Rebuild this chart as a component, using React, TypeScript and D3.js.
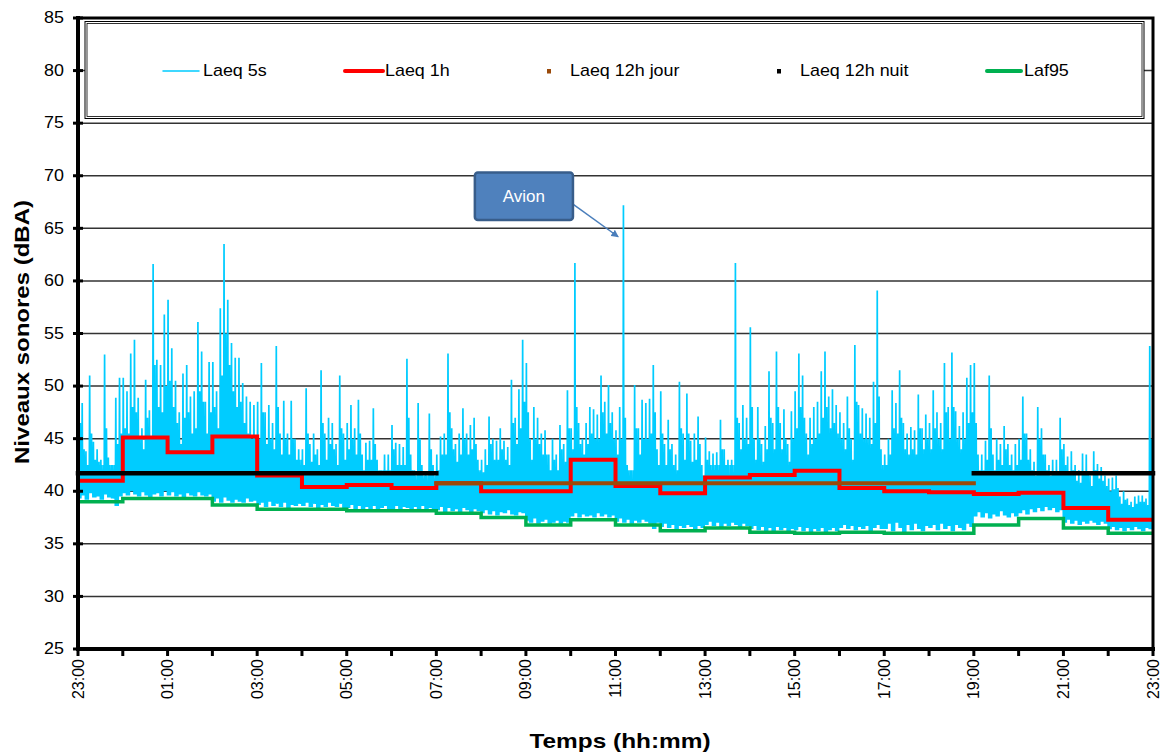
import React from "react";
import * as d3 from "d3";

const W = 1164;
const H = 755;

// x axis: hours elapsed since 23:00 (0..24)
const xTickLabels = ["23:00", "01:00", "03:00", "05:00", "07:00", "09:00", "11:00", "13:00", "15:00", "17:00", "19:00", "21:00", "23:00"];
const yTickValues = [25, 30, 35, 40, 45, 50, 55, 60, 65, 70, 75, 80, 85];

// Laeq 1h (one value per hour, starting 23:00)
const laeq1h = [41.0, 45.1, 43.7, 45.2, 41.5, 40.4, 40.6, 40.3, 40.75, 40.0, 40.0, 43.0, 40.5, 39.8, 41.3, 41.55, 41.95, 40.3, 40.0, 39.9, 39.75, 39.85, 38.4, 37.3];

// Laf95 (one value per hour)
const laf95 = [39.0, 39.3, 39.3, 38.7, 38.3, 38.3, 38.15, 38.15, 37.9, 37.5, 36.8, 37.3, 36.8, 36.25, 36.5, 36.1, 36.0, 36.1, 36.0, 36.0, 36.8, 37.4, 36.5, 36.0];

// Laeq 12h periods [startHour, endHour, value]
const laeq12hJour: [number, number, number][] = [[8, 20, 40.75]];
const laeq12hNuit: [number, number, number][] = [[0, 8, 41.7], [20, 24, 41.7]];

// Laeq 5s : per hour, 12 five-minute buckets — highest peak
const laeq5sHigh = [
  [52.6, 48.4, 43.8, 51.0, 44.7, 44.0, 43.0, 53.0, 43.2, 42.5, 48.9, 50.8],
  [50.8, 49.5, 53.1, 54.4, 48.9, 46.0, 50.6, 47.7, 61.6, 52.5, 52.0, 56.8],
  [58.2, 53.6, 50.5, 47.5, 51.2, 52.0, 49.0, 49.5, 56.1, 53.3, 48.5, 52.3],
  [52.3, 49.5, 57.4, 63.5, 58.2, 54.1, 52.7, 52.7, 50.3, 49.0, 48.5, 48.2],
  [48.5, 52.2, 47.5, 48.2, 46.5, 53.8, 45.5, 48.6, 45.5, 48.6, 45.0, 44.0],
  [44.0, 49.8, 44.5, 45.5, 44.0, 51.5, 45.5, 47.0, 46.5, 44.5, 51.0, 45.5],
  [46.5, 48.2, 46.0, 48.7, 43.5, 44.6, 44.8, 47.9, 43.0, 42.0, 43.5, 43.5],
  [46.3, 44.6, 44.5, 44.2, 52.6, 43.5, 42.0, 48.4, 42.5, 41.8, 47.4, 42.5],
  [43.5, 45.2, 45.5, 53.1, 46.0, 44.5, 45.5, 47.9, 45.5, 46.3, 47.0, 43.0],
  [43.0, 44.0, 47.1, 45.0, 44.8, 46.0, 44.8, 44.2, 50.6, 47.0, 49.7, 54.4],
  [52.2, 45.0, 48.0, 47.0, 45.5, 45.8, 43.5, 45.0, 43.5, 46.3, 44.5, 49.6],
  [46.0, 61.7, 46.5, 45.0, 46.5, 48.0, 47.8, 47.3, 51.0, 48.5, 50.1, 47.5],
  [45.8, 48.0, 67.2, 42.5, 42.0, 50.1, 46.0, 48.7, 48.4, 48.8, 52.0, 44.0],
  [49.5, 44.5, 46.8, 44.5, 43.5, 50.4, 45.5, 49.3, 44.8, 45.5, 47.1, 42.5],
  [45.1, 43.8, 43.6, 43.7, 46.8, 44.0, 43.0, 43.0, 61.7, 46.5, 48.2, 47.0],
  [55.6, 45.0, 48.0, 44.5, 46.2, 51.4, 46.5, 53.3, 46.5, 47.8, 44.5, 47.6],
  [49.5, 53.1, 51.0, 45.5, 47.0, 48.0, 48.5, 51.4, 53.3, 49.0, 49.7, 48.2],
  [47.5, 46.5, 49.0, 45.0, 53.9, 48.2, 47.9, 47.4, 47.0, 50.4, 59.1, 44.0],
  [43.5, 45.0, 49.6, 48.4, 51.5, 46.5, 45.5, 46.1, 45.8, 49.2, 46.0, 47.3],
  [46.5, 49.6, 47.5, 46.5, 52.2, 48.0, 53.2, 47.6, 46.2, 47.5, 50.8, 52.0],
  [52.2, 43.5, 43.5, 44.8, 51.0, 43.5, 45.0, 44.5, 46.2, 44.5, 43.5, 44.5],
  [45.0, 49.0, 45.5, 44.0, 42.8, 48.0, 46.0, 43.5, 42.5, 43.0, 43.0, 47.0],
  [44.5, 43.3, 43.8, 42.5, 42.0, 43.6, 43.5, 41.5, 43.8, 42.6, 42.3, 41.5],
  [41.2, 41.3, 41.5, 39.5, 40.0, 39.3, 39.0, 39.5, 39.6, 39.6, 39.3, 53.8],
];

// Laeq 5s : secondary peak per five-minute bucket
const laeq5sMid = [
  [46.5, 44.0, 42.5, 45.5, 43.0, 42.8, 41.8, 46.0, 42.0, 41.5, 44.5, 45.5],
  [46.0, 45.5, 48.0, 47.5, 45.0, 44.0, 47.0, 45.0, 52.0, 48.0, 47.5, 50.0],
  [50.5, 48.0, 46.5, 44.5, 47.0, 47.5, 45.5, 46.0, 49.5, 48.5, 45.5, 47.5],
  [48.0, 46.0, 51.0, 55.0, 52.0, 49.5, 48.0, 48.5, 46.5, 45.5, 45.0, 45.0],
  [45.0, 47.5, 44.5, 45.0, 44.0, 48.0, 43.5, 45.0, 43.5, 45.0, 43.0, 42.5],
  [42.5, 45.5, 42.8, 43.5, 42.5, 46.5, 43.0, 44.5, 44.0, 42.5, 46.0, 43.0],
  [44.0, 45.0, 43.5, 45.5, 42.0, 43.0, 43.0, 44.5, 41.8, 41.2, 42.0, 42.0],
  [44.0, 42.5, 42.5, 42.5, 47.0, 42.0, 41.0, 45.0, 41.2, 40.8, 44.0, 41.2],
  [42.0, 43.5, 43.5, 47.5, 44.0, 42.8, 43.5, 45.0, 43.5, 44.0, 44.5, 41.8],
  [41.8, 42.5, 44.5, 43.0, 43.0, 44.0, 43.0, 42.5, 46.5, 44.5, 46.0, 48.5],
  [47.5, 43.0, 45.0, 44.5, 43.5, 43.5, 42.0, 43.0, 42.0, 44.0, 42.8, 46.0],
  [44.0, 48.0, 44.5, 43.5, 44.5, 45.5, 45.0, 45.0, 47.5, 45.5, 46.5, 45.0],
  [43.5, 45.0, 47.0, 41.5, 41.0, 46.0, 43.5, 45.0, 45.0, 45.5, 47.5, 42.5],
  [45.5, 42.5, 44.0, 42.5, 42.0, 46.0, 43.0, 45.5, 42.8, 43.0, 44.5, 41.2],
  [43.0, 42.0, 42.0, 42.0, 44.0, 42.5, 41.5, 41.8, 47.0, 44.0, 45.0, 44.5],
  [48.0, 43.0, 45.0, 42.8, 44.0, 47.0, 44.0, 48.0, 44.0, 45.0, 42.8, 45.0],
  [46.0, 48.0, 47.0, 43.5, 44.5, 45.0, 45.5, 47.0, 48.0, 46.0, 46.5, 45.5],
  [45.0, 44.0, 46.0, 43.0, 48.5, 45.5, 45.0, 45.0, 44.5, 46.5, 49.0, 42.5],
  [42.5, 43.5, 46.0, 45.5, 47.0, 44.0, 43.5, 44.0, 43.5, 46.0, 44.0, 45.0],
  [44.0, 46.0, 45.0, 44.0, 47.5, 45.0, 48.0, 45.0, 44.0, 45.0, 46.5, 47.5],
  [46.5, 42.0, 42.0, 43.0, 46.0, 42.0, 43.0, 42.5, 44.0, 42.5, 42.0, 42.5],
  [43.0, 45.5, 43.0, 42.0, 41.5, 45.0, 43.5, 42.0, 41.5, 41.8, 41.8, 44.0],
  [42.5, 41.8, 42.0, 41.0, 40.8, 41.8, 41.8, 40.5, 42.0, 41.2, 41.0, 40.5],
  [40.0, 40.2, 40.3, 38.8, 39.2, 38.7, 38.5, 38.8, 39.0, 39.0, 38.7, 45.0],
];

// Laeq 5s : local minima per five-minute bucket
const laeq5sLow = [
  [39.3, 39.6, 39.2, 39.8, 39.4, 39.5, 39.2, 39.7, 39.4, 39.3, 38.6, 39.5],
  [39.8, 39.6, 40.0, 39.7, 39.5, 39.9, 39.6, 39.4, 39.7, 39.8, 39.5, 40.0],
  [39.6, 39.9, 39.5, 39.7, 39.4, 39.8, 39.6, 39.5, 39.9, 39.6, 39.5, 39.7],
  [39.0, 39.3, 38.9, 39.4, 39.1, 38.9, 39.2, 39.0, 38.9, 39.3, 39.0, 39.1],
  [38.7, 38.9, 38.5, 39.0, 38.6, 38.8, 38.5, 38.9, 38.4, 38.7, 38.6, 38.8],
  [38.6, 38.9, 38.5, 38.8, 38.4, 38.7, 38.5, 38.9, 38.6, 38.5, 38.8, 38.4],
  [38.4, 38.7, 38.3, 38.6, 38.2, 38.5, 38.3, 38.6, 38.2, 38.4, 38.6, 38.3],
  [38.3, 38.6, 38.2, 38.5, 38.4, 38.1, 38.5, 38.3, 38.6, 38.2, 38.4, 38.3],
  [38.2, 38.5, 38.0, 38.4, 38.1, 38.3, 37.9, 38.4, 38.2, 38.0, 38.3, 38.1],
  [37.9, 38.2, 37.8, 38.1, 37.7, 38.0, 37.9, 38.2, 37.8, 37.7, 38.0, 37.9],
  [37.2, 37.0, 37.4, 36.9, 37.1, 37.3, 36.9, 37.0, 37.2, 36.9, 37.1, 37.0],
  [37.6, 37.9, 37.5, 37.8, 37.6, 37.7, 37.5, 37.9, 37.6, 37.8, 37.5, 37.7],
  [37.1, 37.4, 37.0, 37.3, 36.9, 37.2, 37.0, 37.3, 37.1, 36.9, 36.4, 37.0],
  [36.6, 36.9, 36.5, 36.8, 36.4, 36.7, 36.5, 36.8, 36.6, 36.4, 36.7, 36.5],
  [36.8, 37.1, 36.7, 37.0, 36.6, 36.9, 36.7, 37.0, 36.8, 36.6, 36.9, 36.7],
  [36.4, 36.7, 36.3, 36.6, 36.2, 36.5, 36.0, 36.6, 36.3, 36.5, 36.2, 36.4],
  [36.3, 36.6, 36.2, 36.5, 36.1, 36.4, 36.2, 36.5, 36.0, 36.3, 36.5, 36.2],
  [36.5, 36.8, 36.4, 36.7, 36.3, 36.6, 36.4, 36.7, 36.2, 36.5, 36.8, 36.4],
  [36.4, 36.9, 36.2, 37.0, 36.5, 36.1, 36.8, 36.3, 36.9, 36.4, 36.2, 36.7],
  [36.5, 36.8, 36.3, 36.9, 36.4, 36.7, 36.2, 36.8, 36.5, 36.3, 36.9, 36.6],
  [37.6, 38.0, 37.5, 37.9, 37.4, 37.8, 37.6, 38.1, 37.7, 37.5, 37.9, 37.6],
  [37.9, 38.2, 37.8, 38.3, 38.0, 38.4, 38.1, 38.5, 38.2, 38.4, 38.0, 38.2],
  [37.0, 37.3, 36.9, 37.2, 36.8, 37.1, 36.9, 37.2, 37.0, 36.8, 37.1, 36.9],
  [36.4, 36.6, 36.3, 36.5, 36.2, 36.5, 36.3, 36.6, 36.4, 36.2, 36.5, 36.4],
];

// Laeq 5s : top of the dense band, per hour
const laeq5sCore = [42.5, 44.0, 44.0, 45.0, 43.0, 42.0, 42.0, 41.5, 42.0, 41.5, 42.0, 43.5, 42.0, 41.5, 42.5, 42.5, 43.0, 42.0, 42.5, 42.0, 41.0, 41.0, 40.0, 38.5];

// annotation
const avionBox = { t0: 8.86, t1: 11.05, v0: 65.8, v1: 70.3, label: "Avion" };
const avionArrow = { from: [11.05, 67.3], to: [12.06, 64.2] };

const legendItems = [
  { label: "Laeq 5s", kind: "line", color: "#00CCFF", width: 1.5, x1: 163, x2: 199, tx: 203 },
  { label: "Laeq 1h", kind: "line", color: "#FF0000", width: 4, x1: 345, x2: 383, tx: 385 },
  { label: "Laeq 12h jour", kind: "marker", color: "#9A4A0A", width: 4, x1: 549, x2: 549, tx: 570 },
  { label: "Laeq 12h nuit", kind: "marker", color: "#000000", width: 4, x1: 779, x2: 779, tx: 800 },
  { label: "Laf95", kind: "line", color: "#00B050", width: 4, x1: 987, x2: 1021, tx: 1024 },
];

const FONT = "'Liberation Sans', Arial, sans-serif";

export default function App() {
  const x = d3.scaleLinear().domain([0, 24]).range([78, 1153]);
  const y = d3.scaleLinear().domain([25, 85]).range([649, 18]);

  const line = d3
    .line<[number, number]>()
    .x((d) => x(d[0]))
    .y((d) => y(d[1]));
  const step = d3
    .line<[number, number]>()
    .x((d) => x(d[0]))
    .y((d) => y(d[1]))
    .curve(d3.curveStepAfter);

  const hourly = (vals: number[]): [number, number][] => [
    ...vals.map((v, i) => [i, v] as [number, number]),
    [vals.length, vals[vals.length - 1]],
  ];

  const pts5s: [number, number][] = [];
  laeq5sHigh.forEach((row, h) =>
    row.forEach((hi, b) => {
      const t = h + b / 12;
      const lo = laeq5sLow[h][b];
      const mid = laeq5sMid[h][b];
      const core = laeq5sCore[h];
      const seq = [lo, hi, lo, core, lo, mid, lo, core];
      seq.forEach((v, k) => pts5s.push([t + k / (12 * seq.length), v]));
    })
  );

  const hourTicks = d3.range(0, 25);
  const labelTicks = d3.range(0, 25, 2);

  const bx0 = x(avionBox.t0);
  const bx1 = x(avionBox.t1);
  const by0 = y(avionBox.v1);
  const by1 = y(avionBox.v0);

  return (
    <svg
      width={W}
      height={H}
      style={{ position: "fixed", left: 0, top: 0, background: "#fff" }}
      fontFamily={FONT}
    >
      <defs>
        <marker id="arrow" viewBox="0 0 10 10" refX="9" refY="5" markerWidth="5" markerHeight="5" orient="auto">
          <path d="M0,0 L10,5 L0,10 z" fill="#4A7EBB" />
        </marker>
        <clipPath id="plot">
          <rect x={78} y={18} width={1075} height={631} />
        </clipPath>
      </defs>
      <rect x={0} y={0} width={W} height={H} fill="#fff" />

      {/* gridlines */}
      {yTickValues.map((v) => (
        <line key={"g" + v} x1={78} x2={1153} y1={y(v)} y2={y(v)} stroke="#333" strokeWidth={1.5} />
      ))}

      {/* legend */}
      <rect x={85} y={21.5} width={1059} height={97} fill="#fff" stroke="#000" strokeWidth={1} />
      <rect x={87} y={23.5} width={1055} height={93} fill="none" stroke="#000" strokeWidth={0.8} />
      {legendItems.map((it) => (
        <g key={it.label}>
          {it.kind === "line" ? (
            <line x1={it.x1} x2={it.x2} y1={71} y2={71} stroke={it.color} strokeWidth={it.width} strokeLinecap="round" />
          ) : (
            <rect x={it.x1 - 2} y={69} width={4} height={4.5} fill={it.color} />
          )}
          <text
            transform={`translate(${it.tx},71) scale(1.12,1)`}
            fontSize={16}
            dominantBaseline="central"
            fill="#000"
          >
            {it.label}
          </text>
        </g>
      ))}

      {/* series */}
      <g clipPath="url(#plot)">
        <path d={line(pts5s) || ""} fill="none" stroke="#00CCFF" strokeWidth={1.7} strokeLinejoin="miter" strokeMiterlimit={2} />
      </g>
      <path d={step(hourly(laf95)) || ""} fill="none" stroke="#00B050" strokeWidth={3.5} />
      <path d={step(hourly(laeq1h)) || ""} fill="none" stroke="#FF0000" strokeWidth={4} />
      {laeq12hJour.map(([a, b, v], i) => (
        <line key={"j" + i} x1={x(a)} x2={x(b)} y1={y(v)} y2={y(v)} stroke="#9A4A0A" strokeWidth={4} strokeLinecap="square" />
      ))}
      {laeq12hNuit.map(([a, b, v], i) => (
        <line key={"n" + i} x1={x(a)} x2={x(b)} y1={y(v)} y2={y(v)} stroke="#000" strokeWidth={4.5} strokeLinecap="square" />
      ))}

      {/* annotation */}
      <line
        x1={x(avionArrow.from[0])}
        y1={y(avionArrow.from[1])}
        x2={x(avionArrow.to[0])}
        y2={y(avionArrow.to[1])}
        stroke="#4A7EBB"
        strokeWidth={1.5}
        markerEnd="url(#arrow)"
      />
      <rect x={bx0} y={by0} width={bx1 - bx0} height={by1 - by0} rx={3} fill="#4F81BD" stroke="#385D8A" strokeWidth={2.5} />
      <text x={(bx0 + bx1) / 2} y={(by0 + by1) / 2} fill="#fff" fontSize={17} textAnchor="middle" dominantBaseline="central">
        {avionBox.label}
      </text>

      {/* frame */}
      <rect x={78} y={18} width={1075} height={631} fill="none" stroke="#000" strokeWidth={3} />
      <line x1={78} x2={78} y1={16} y2={651} stroke="#000" strokeWidth={4} />
      <line x1={76} x2={1155} y1={649} y2={649} stroke="#000" strokeWidth={4} />

      {/* y axis */}
      {yTickValues.map((v) => (
        <g key={"yt" + v}>
          <line x1={73} x2={83} y1={y(v)} y2={y(v)} stroke="#000" strokeWidth={3} />
          <text
            transform={`translate(64,${y(v)}) scale(1.12,1)`}
            textAnchor="end"
            dominantBaseline="central"
            fontSize={16}
            fill="#000"
          >
            {v}
          </text>
        </g>
      ))}

      {/* x axis */}
      {hourTicks.map((h) => (
        <line key={"xt" + h} x1={x(h)} x2={x(h)} y1={649} y2={656} stroke="#000" strokeWidth={3} />
      ))}
      {labelTicks.map((h, i) => (
        <text
          key={"xl" + h}
          transform={`translate(${x(h)},659) rotate(-90)`}
          textAnchor="end"
          dominantBaseline="central"
          fontSize={16}
          fill="#000"
        >
          {xTickLabels[i]}
        </text>
      ))}

      {/* titles */}
      <text
        transform={`translate(22,332) rotate(-90) scale(1.2,1)`}
        textAnchor="middle"
        dominantBaseline="central"
        fontSize={20}
        fontWeight="bold"
        fill="#000"
      >
        Niveaux sonores (dBA)
      </text>
      <text
        transform={`translate(620,741) scale(1.22,1)`}
        textAnchor="middle"
        dominantBaseline="central"
        fontSize={20}
        fontWeight="bold"
        fill="#000"
      >
        Temps (hh:mm)
      </text>
    </svg>
  );
}
